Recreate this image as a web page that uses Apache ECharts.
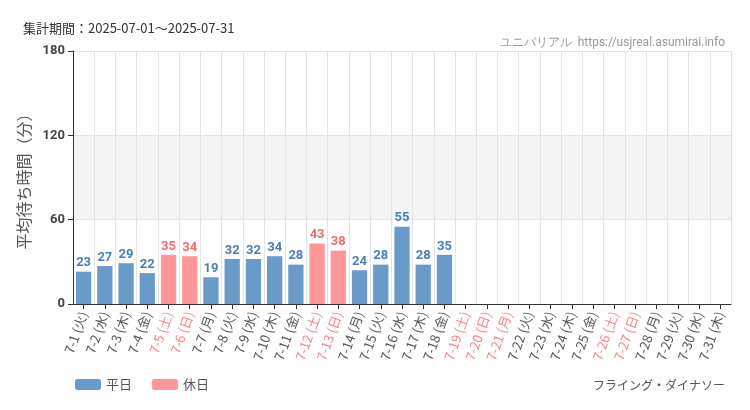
<!DOCTYPE html>
<html><head><meta charset="utf-8">
<script src="https://cdn.jsdelivr.net/npm/echarts@6/dist/echarts.min.js"></script>
<style>body{margin:0;background:#fff}#c{width:750px;height:410px}</style>
</head><body><div id="c"></div>
<script>
const days = ['7-1 (火)','7-2 (水)','7-3 (木)','7-4 (金)','7-5 (土)','7-6 (日)','7-7 (月)','7-8 (火)','7-9 (水)','7-10 (木)','7-11 (金)','7-12 (土)','7-13 (日)','7-14 (月)','7-15 (火)','7-16 (水)','7-17 (木)','7-18 (金)','7-19 (土)','7-20 (日)','7-21 (月)','7-22 (火)','7-23 (水)','7-24 (木)','7-25 (金)','7-26 (土)','7-27 (日)','7-28 (月)','7-29 (火)','7-30 (水)','7-31 (木)'];
const holidays = [4,5,11,12,18,19,20,25,26];
const waits = [23,27,29,22,35,34,19,32,32,34,28,43,38,24,28,55,28,35];
const yTicks = [0,60,120,180];

const weekday = days.map((d,i)=> i<waits.length && !holidays.includes(i) ? waits[i] : null);
const holiday = days.map((d,i)=> i<waits.length && holidays.includes(i) ? waits[i] : null);
const narrow = '"Liberation Sans Narrow","Roboto",sans-serif';

const chart = echarts.init(document.getElementById('c'));
chart.setOption({
  animation:false,
  title:[
    {text:'集計期間：2025-07-01～2025-07-31',left:18,top:17,textStyle:{fontSize:13,fontWeight:'normal',color:'#333',fontFamily:'"Noto Sans CJK JP"'}},
    {text:'ユニバリアル  https://usjreal.asumirai.info',right:20,top:32,textStyle:{fontSize:12,fontWeight:'normal',color:'#999',fontFamily:narrow}},
    {text:'フライング・ダイナソー',right:20,bottom:14,textStyle:{fontSize:12,fontWeight:'normal',color:'#555',fontFamily:'"Noto Sans CJK JP"'}}
  ],
  legend:{left:70,bottom:14,itemWidth:26,itemHeight:11,itemGap:20,textStyle:{fontSize:13,color:'#555',fontFamily:'"Noto Sans CJK JP"'},data:['平日','休日']},
  grid:{left:73,right:19,top:51,bottom:106},
  xAxis:{type:'category',data:days,
    axisLine:{lineStyle:{color:'#333'}},axisTick:{show:true,alignWithLabel:true,lineStyle:{color:'#333'}},
    splitLine:{show:true,lineStyle:{color:'#e4e4e4'}},
    axisLabel:{rotate:70,interval:0,fontSize:13,fontFamily:'"Noto Sans CJK JP"',
      color:(v,i)=> holidays.includes(i)?'#ff7f87':'#555'}},
  yAxis:{type:'value',min:0,max:180,interval:60,name:'平均待ち時間（分）',nameLocation:'middle',nameGap:38,
    nameTextStyle:{fontSize:16,color:'#555',fontFamily:'"Noto Sans CJK JP"'},
    axisLine:{show:true,lineStyle:{color:'#333'}},axisTick:{show:true,lineStyle:{color:'#333'}},
    axisLabel:{fontSize:13,fontWeight:'bold',color:'#444',fontFamily:narrow,formatter:v=>yTicks.includes(v)?v:''},
    splitLine:{lineStyle:{color:'#e4e4e4'}},
    splitArea:{show:true,areaStyle:{color:['#fff','#f4f4f4']}}},
  series:[
    {name:'平日',type:'bar',stack:'a',data:weekday,barWidth:'72%',itemStyle:{color:'#6a9ac8'},
      label:{show:true,position:'top',distance:2,color:'#4a7eb6',fontSize:13,fontWeight:'bold',fontFamily:narrow}},
    {name:'休日',type:'bar',stack:'a',data:holiday,barWidth:'72%',itemStyle:{color:'#ff9698'},
      label:{show:true,position:'top',distance:2,color:'#f26a72',fontSize:13,fontWeight:'bold',fontFamily:narrow}}
  ]
});
</script></body></html>
